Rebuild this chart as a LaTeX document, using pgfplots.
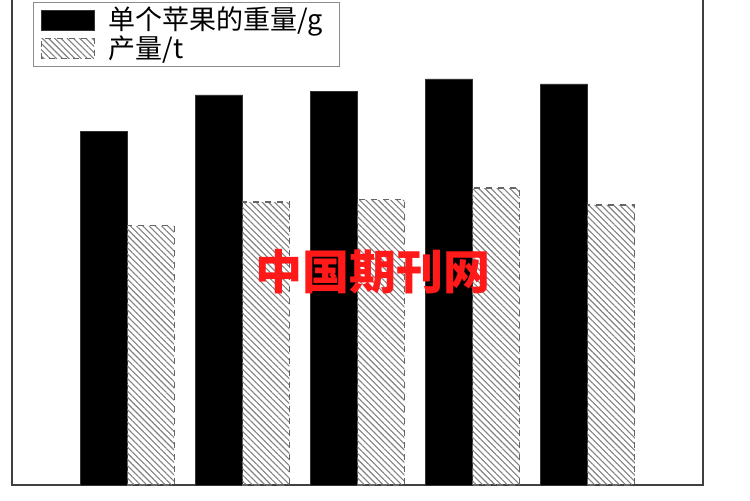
\documentclass[border=0pt]{standalone}
\usepackage{fontspec}
\usepackage{pgfplots}
\pgfplotsset{compat=1.18}
\usetikzlibrary{patterns.meta}
\newfontfamily\cjk{Noto Sans CJK SC}

\begin{document}
\begin{tikzpicture}
\clip (-6pt,-7.5pt) rectangle (369pt,242.5pt);
\begin{axis}[
    scale only axis,
    width=345.5pt, height=246.5pt,
    xmin=0, xmax=6,
    ymin=0, ymax=250,
    ybar=0pt, bar width=23.5pt,
    xtick=\empty, ytick=\empty,
    axis line style={draw=black!75, line width=0.9pt},
    legend cell align=left,
    legend style={
        at={(axis description cs:0,1)}, anchor=north west,
        xshift=10.5pt, yshift=-5pt,
        draw=black!45, line width=0.5pt,
        font=\cjk\fontsize{13.5}{15}\selectfont,
        inner xsep=3.5pt, inner ysep=0.3pt,
        row sep=-2.5pt,
        /tikz/every odd column/.append style={column sep=5pt},
    },
    legend image code/.code={
        \draw[#1] (0pt,-5pt) rectangle (26.5pt,5pt);
    },
]
\addplot[fill=black, draw=black!80, line width=0.4pt] coordinates {
    (1,179.5) (2,197.8) (3,199.8) (4,205.9) (5,203.4)
};
\addlegendentry{单个苹果的重量/g\hspace*{2.5pt}}
\addplot[draw=black!60, dashed, line width=0.6pt,
    pattern={Lines[angle=-45, distance=2.2pt, line width=0.55pt]},
    pattern color=black!50] coordinates {
    (1,131.4) (2,143.5) (3,144.6) (4,150.6) (5,142.0)
};
\addlegendentry{产量/t}
\node[text=red!90!white, font=\cjk\bfseries\fontsize{23.5}{26}\selectfont]
    at (rel axis cs:0.522,0.432) {中国期刊网};
\end{axis}
\end{tikzpicture}
\end{document}
